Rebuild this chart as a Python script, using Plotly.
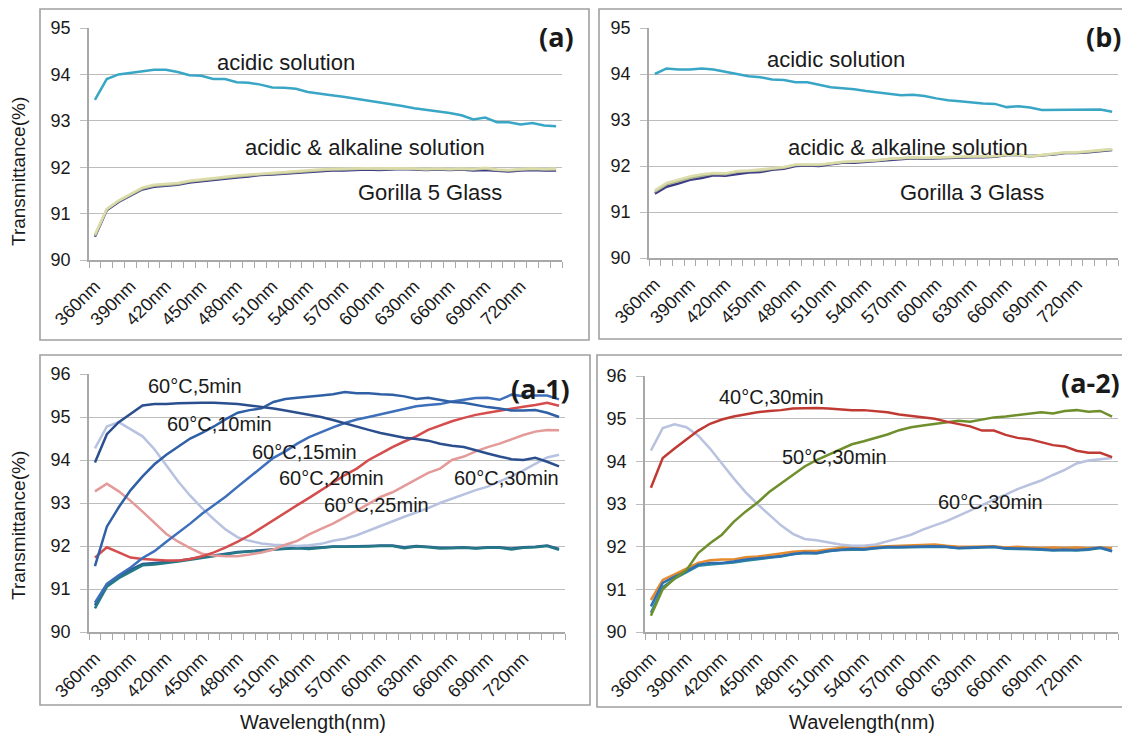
import plotly.graph_objects as go

# the page body has an 8px default margin, so the figure is 8px smaller than the window
OFF = 8
W, H = 1130 - OFF, 737 - OFF

wavelength = list(range(360, 760, 10))
tick_vals = list(range(360, 730, 30))
tick_text = [f"{v}nm" for v in tick_vals]

# ---------- panel (a): Gorilla 5 ----------
a_acidic = [93.45, 93.9, 94.0, 94.03, 94.06, 94.1, 94.1, 94.05, 93.98, 93.97,
            93.9, 93.9, 93.83, 93.82, 93.78, 93.72, 93.71, 93.69, 93.62, 93.58,
            93.55, 93.52, 93.48, 93.44, 93.4, 93.37, 93.32, 93.27, 93.24, 93.2,
            93.17, 93.12, 93.03, 93.07, 92.97, 92.97, 92.92, 92.95, 92.9, 92.88]
a_glass_dark = [90.5, 91.07, 91.25, 91.38, 91.52, 91.58, 91.6, 91.62, 91.67, 91.7,
                91.73, 91.75, 91.78, 91.8, 91.83, 91.84, 91.86, 91.88, 91.9, 91.92,
                91.93, 91.93, 91.94, 91.95, 91.94, 91.95, 91.96, 91.95, 91.94, 91.95,
                91.94, 91.95, 91.93, 91.94, 91.92, 91.91, 91.93, 91.94, 91.93, 91.93]
a_glass_light1 = [90.55, 91.1, 91.28, 91.42, 91.56, 91.62, 91.64, 91.66, 91.71, 91.74,
                  91.77, 91.79, 91.82, 91.84, 91.86, 91.88, 91.9, 91.92, 91.94, 91.95,
                  91.96, 91.96, 91.97, 91.98, 91.97, 91.98, 91.98, 91.97, 91.96, 91.97,
                  91.96, 91.97, 91.96, 91.99, 91.95, 91.94, 91.96, 91.97, 91.96, 91.97]
a_glass_light2 = [90.52, 91.09, 91.27, 91.4, 91.54, 91.6, 91.62, 91.64, 91.69, 91.72,
                  91.75, 91.77, 91.8, 91.82, 91.85, 91.86, 91.88, 91.9, 91.92, 91.94,
                  91.95, 91.95, 91.96, 91.97, 91.96, 91.97, 91.97, 91.96, 91.95, 91.96,
                  91.95, 91.96, 91.95, 91.97, 91.94, 91.93, 91.95, 91.96, 91.95, 91.95]

# ---------- panel (b): Gorilla 3 ----------
b_acidic = [94.0, 94.12, 94.1, 94.1, 94.12, 94.1, 94.05, 94.0, 93.95, 93.93,
            93.88, 93.87, 93.82, 93.82, 93.77, 93.71, 93.69, 93.67, 93.63, 93.6,
            93.58, 93.54, 93.55, 93.52, 93.47, 93.43, 93.41, 93.38, 93.36, 93.35,
            93.28, 93.3, 93.27, 93.22, 93.22, 93.22, 93.23, 93.23, 93.23, 93.18]
b_glass_dark = [91.4, 91.55, 91.62, 91.7, 91.74, 91.8, 91.79, 91.83, 91.86, 91.87,
                91.92, 91.94, 92.0, 92.01, 92.0, 92.04, 92.07, 92.07, 92.09, 92.11,
                92.14, 92.16, 92.17, 92.16, 92.17, 92.18, 92.19, 92.19, 92.19, 92.2,
                92.24, 92.24, 92.22, 92.23, 92.25, 92.28, 92.28, 92.3, 92.33, 92.35]
b_glass_light1 = [91.47, 91.63, 91.7, 91.77, 91.82, 91.85, 91.84, 91.89, 91.9, 91.92,
                  91.95, 91.98, 92.03, 92.03, 92.03, 92.06, 92.09, 92.1, 92.11, 92.13,
                  92.16, 92.18, 92.19, 92.18, 92.19, 92.2, 92.21, 92.21, 92.21, 92.22,
                  92.25, 92.25, 92.21, 92.24, 92.27, 92.3, 92.3, 92.32, 92.35, 92.37]
b_glass_light2 = [91.44, 91.6, 91.67, 91.74, 91.79, 91.83, 91.82, 91.87, 91.89, 91.9,
                  91.94, 91.96, 92.02, 92.02, 92.02, 92.05, 92.08, 92.09, 92.1, 92.12,
                  92.15, 92.17, 92.18, 92.17, 92.18, 92.19, 92.2, 92.2, 92.2, 92.21,
                  92.24, 92.24, 92.2, 92.23, 92.26, 92.29, 92.29, 92.31, 92.34, 92.36]

# ---------- panel (a-1): 60 C, various times ----------
a1_5min = [93.94, 94.6, 94.88, 95.08, 95.27, 95.3, 95.3, 95.32, 95.33, 95.33,
           95.33, 95.32, 95.3, 95.27, 95.24, 95.2, 95.15, 95.1, 95.04, 95.0,
           94.93, 94.85, 94.77, 94.7, 94.63, 94.57, 94.52, 94.49, 94.45, 94.38,
           94.33, 94.3, 94.22, 94.15, 94.08, 94.02, 94.0, 94.05, 93.96, 93.85]
a1_10min = [91.53, 92.45, 92.9, 93.3, 93.62, 93.9, 94.12, 94.3, 94.5, 94.63,
            94.78, 94.95, 95.1, 95.16, 95.2, 95.35, 95.42, 95.45, 95.47, 95.5,
            95.53, 95.58, 95.55, 95.55, 95.53, 95.52, 95.48, 95.42, 95.45, 95.4,
            95.35, 95.33, 95.28, 95.23, 95.2, 95.15, 95.15, 95.16, 95.1, 95.0]
a1_15min = [90.68, 91.12, 91.32, 91.5, 91.72, 91.88, 92.1, 92.3, 92.52, 92.75,
            92.95, 93.15, 93.38, 93.6, 93.82, 94.05, 94.2, 94.38, 94.53, 94.65,
            94.76, 94.86, 94.94, 95.0, 95.06, 95.12, 95.18, 95.25, 95.28, 95.3,
            95.36, 95.4, 95.44, 95.45, 95.4, 95.52, 95.48, 95.5, 95.5, 95.41]
a1_20min = [91.73, 91.97, 91.85, 91.73, 91.7, 91.68, 91.66, 91.66, 91.7, 91.76,
            91.85, 91.97, 92.1, 92.25, 92.43, 92.6, 92.78, 92.95, 93.12, 93.3,
            93.48, 93.65, 93.8, 94.0, 94.15, 94.3, 94.43, 94.55, 94.7, 94.8,
            94.9, 94.98, 95.05, 95.1, 95.15, 95.2, 95.24, 95.28, 95.33, 95.26]
a1_25min = [93.27, 93.45, 93.27, 93.05, 92.8, 92.55, 92.28, 92.1, 91.95, 91.82,
            91.78, 91.76, 91.76, 91.8, 91.85, 91.92, 92.03, 92.12, 92.27, 92.4,
            92.52, 92.67, 92.82, 92.98, 93.14, 93.25, 93.4, 93.55, 93.7, 93.8,
            94.0, 94.08, 94.2, 94.3, 94.38, 94.48, 94.58, 94.66, 94.7, 94.69]
a1_30min = [94.27, 94.78, 94.88, 94.72, 94.55, 94.25, 93.88, 93.5, 93.17, 92.88,
            92.62, 92.38, 92.2, 92.12, 92.06, 92.03, 92.02, 92.0, 92.02, 92.05,
            92.12, 92.17, 92.25, 92.36, 92.47, 92.57, 92.68, 92.78, 92.88, 93.0,
            93.1, 93.2, 93.3, 93.38, 93.5, 93.62, 93.76, 93.92, 94.06, 94.12]
a1_base_teal = [90.55, 91.05, 91.25, 91.4, 91.55, 91.57, 91.6, 91.64, 91.68, 91.72,
                91.76, 91.8, 91.85, 91.87, 91.88, 91.92, 91.94, 91.95, 91.93, 91.96,
                91.98, 91.98, 91.98, 91.99, 92.0, 92.0, 91.95, 91.99, 91.97, 91.94,
                91.95, 91.96, 91.94, 91.96, 91.96, 91.92, 91.96, 91.97, 92.0, 91.91]
a1_base_navy = [90.62, 91.1, 91.3, 91.45, 91.58, 91.6, 91.63, 91.66, 91.7, 91.74,
                91.78, 91.82, 91.86, 91.88, 91.9, 91.93, 91.95, 91.96, 91.95, 91.97,
                91.99, 91.99, 91.99, 92.0, 92.01, 92.01, 91.97, 92.0, 91.98, 91.96,
                91.96, 91.97, 91.95, 91.97, 91.97, 91.94, 91.97, 91.98, 92.01, 91.93]

# ---------- panel (a-2): 30 min, various temperatures ----------
a2_40c = [93.38, 94.08, 94.3, 94.52, 94.72, 94.88, 94.98, 95.05, 95.1, 95.15,
          95.18, 95.2, 95.24, 95.25, 95.25, 95.24, 95.22, 95.2, 95.2, 95.17,
          95.15, 95.1, 95.07, 95.03, 95.0, 94.93, 94.88, 94.82, 94.72, 94.72,
          94.62, 94.55, 94.52, 94.45, 94.38, 94.35, 94.25, 94.2, 94.2, 94.1]
a2_50c = [90.38, 91.0, 91.25, 91.45, 91.85, 92.08, 92.28, 92.58, 92.82, 93.03,
          93.28, 93.48, 93.68, 93.88, 94.03, 94.15, 94.28, 94.4, 94.47, 94.55,
          94.63, 94.73, 94.8, 94.84, 94.88, 94.92, 94.95, 94.93, 94.98, 95.03,
          95.05, 95.08, 95.12, 95.15, 95.12, 95.18, 95.2, 95.16, 95.18, 95.05]
a2_60c = [94.25, 94.78, 94.87, 94.8, 94.6, 94.3, 93.95, 93.6, 93.28, 93.0,
          92.75, 92.5, 92.3, 92.18, 92.15, 92.1, 92.05, 92.02, 92.02, 92.05,
          92.12, 92.2, 92.28, 92.4, 92.5, 92.6, 92.72, 92.85, 92.98, 93.1,
          93.22, 93.35, 93.45, 93.55, 93.68, 93.8, 93.95, 94.02, 94.05, 94.08]
a2_base_orange = [90.75, 91.22, 91.35, 91.48, 91.62, 91.68, 91.7, 91.7, 91.75, 91.77,
                  91.8, 91.84, 91.88, 91.9, 91.9, 91.94, 91.97, 91.99, 91.99, 92.0,
                  92.01, 92.02, 92.03, 92.04, 92.05, 92.02, 92.0, 92.0, 92.0, 92.01,
                  91.98, 92.0, 91.98, 91.97, 91.98, 91.97, 91.98, 91.96, 91.98, 91.96]
a2_base_blue = [90.6, 91.15, 91.3, 91.42, 91.58, 91.62, 91.62, 91.65, 91.7, 91.72,
                91.75, 91.78, 91.83, 91.86, 91.85, 91.9, 91.93, 91.95, 91.94, 91.97,
                91.99, 91.99, 92.0, 92.0, 92.01, 92.0, 91.97, 91.98, 91.99, 92.0,
                91.96, 91.96, 91.95, 91.94, 91.92, 91.93, 91.92, 91.94, 91.98, 91.9]
a2_base_teal = [90.45, 91.05, 91.25, 91.4, 91.55, 91.58, 91.6, 91.63, 91.67, 91.71,
                91.74, 91.77, 91.82, 91.85, 91.84, 91.89, 91.92, 91.93, 91.93, 91.96,
                91.98, 91.98, 91.99, 91.99, 92.0, 91.99, 91.96, 91.97, 91.98, 91.99,
                91.95, 91.95, 91.94, 91.93, 91.91, 91.92, 91.91, 91.93, 91.97, 91.89]

FONT = "Liberation Sans, Arial, sans-serif"
TXT = "#1a1a1a"
GRID = "#bdbdbd"
AXL = "#a8a8a8"
BOX = "#a0a0a0"


def px(x):
    return (x - OFF) / W


def py(y):
    return 1 - (y - OFF) / H


fig = go.Figure()

panels = {
    # name: (x_left, x_right, y_top, y_bottom, ymax)  in window pixels
    "1": (89, 562, 28, 260, 95),
    "2": (649, 1118, 28, 258, 95),
    "3": (89, 565, 374, 632, 96),
    "4": (645, 1118, 376, 632, 96),
}


def add(series, color, ax, width=2.5):
    fig.add_trace(go.Scatter(
        x=wavelength, y=series, mode="lines",
        line=dict(color=color, width=width),
        xaxis="x" + ("" if ax == "1" else ax),
        yaxis="y" + ("" if ax == "1" else ax),
        showlegend=False, hoverinfo="skip"))


# (a)
add(a_acidic, "#3aa6c6", "1")
add(a_glass_dark, "#3d3a88", "1")
add(a_glass_light2, "#a9b48c", "1")
add(a_glass_light1, "#dcdcab", "1")
# (b)
add(b_acidic, "#3aa6c6", "2")
add(b_glass_dark, "#3d3a88", "2")
add(b_glass_light2, "#a9b48c", "2")
add(b_glass_light1, "#dcdcab", "2")
# (a-1)
add(a1_base_navy, "#2f5b95", "3")
add(a1_base_teal, "#237a86", "3")
add(a1_30min, "#b7c2e0", "3")
add(a1_25min, "#e39a98", "3")
add(a1_20min, "#d54d4d", "3")
add(a1_15min, "#3d6fba", "3")
add(a1_10min, "#2f5fa4", "3")
add(a1_5min, "#2b4f8e", "3")
# (a-2)
add(a2_base_orange, "#e68a2e", "4")
add(a2_base_teal, "#2b8c9c", "4")
add(a2_base_blue, "#2f6fb0", "4")
add(a2_60c, "#b9c2de", "4")
add(a2_50c, "#6f8f2c", "4")
add(a2_40c, "#c03a34", "4")

layout = dict(
    width=W, height=H,
    margin=dict(l=0, r=0, t=0, b=0, autoexpand=False),
    paper_bgcolor="white", plot_bgcolor="white",
    font=dict(family=FONT, color=TXT, size=16),
    showlegend=False,
    template="none",
)

for k, (xl, xr, yt, yb, ymax) in panels.items():
    xa = "xaxis" + ("" if k == "1" else k)
    ya = "yaxis" + ("" if k == "1" else k)
    layout[xa] = dict(
        domain=[px(xl), px(xr)], anchor="y" + ("" if k == "1" else k),
        type="linear", range=[355, 755], automargin=False,
        tickmode="array", tickvals=tick_vals, ticktext=tick_text,
        tickangle=-45, ticks="", showgrid=False, zeroline=False,
        showline=True, linecolor=AXL, linewidth=1.5,
        ticklabelstandoff=7,
        tickfont=dict(size=18, color=TXT, family=FONT),
        minor=dict(ticks="outside", tick0=355, dtick=10, ticklen=6,
                   tickcolor=AXL, tickwidth=1.2, showgrid=False),
    )
    layout[ya] = dict(
        domain=[py(yb), py(yt)], anchor="x" + ("" if k == "1" else k),
        range=[90, ymax], dtick=1, tick0=90, automargin=False,
        showgrid=True, gridcolor=GRID, gridwidth=1.2, zeroline=False,
        showline=True, linecolor=AXL, linewidth=1.5,
        ticks="outside", ticklen=7, tickcolor=GRID,
        ticklabelstandoff=6,
        tickfont=dict(size=18, color=TXT, family=FONT),
    )

fig.update_layout(**layout)

# panel frames
shapes = []
for (x0, y0, x1, y1) in [(40, 7, 589, 340), (599, 7, 1128, 339),
                         (40, 355, 590, 705), (597, 355, 1128, 707)]:
    shapes.append(dict(type="rect", xref="paper", yref="paper",
                       x0=px(x0), x1=px(x1), y0=py(y1), y1=py(max(y0, OFF + 1)),
                       line=dict(color=BOX, width=1.6), fillcolor="rgba(0,0,0,0)",
                       layer="below"))
fig.update_layout(shapes=shapes)

ann = []


def text(t, x, y, size=22, bold=False, angle=0, family=FONT):
    ann.append(dict(text=("<b>%s</b>" % t) if bold else t,
                    x=px(x), y=py(y), xref="paper", yref="paper",
                    xanchor="center", yanchor="middle", showarrow=False,
                    textangle=angle,
                    font=dict(size=size, color=TXT, family=family)))


# (a)
text("acidic solution", 286, 62)
text("acidic &amp; alkaline solution", 365, 148)
text("Gorilla 5 Glass", 430, 192)
text("(a)", 556, 37, size=27, bold=True, family="Open Sans, sans-serif")
# (b)
text("acidic solution", 836, 60)
text("acidic &amp; alkaline solution", 908, 148)
text("Gorilla 3 Glass", 972, 192)
text("(b)", 1103, 37, size=27, bold=True, family="Open Sans, sans-serif")
# (a-1)
text("60°C,5min", 195, 386, size=20)
text("60°C,10min", 220, 424, size=20)
text("60°C,15min", 304, 452, size=20)
text("60°C,20min", 331, 478, size=20)
text("60°C,25min", 376, 505, size=20)
text("60°C,30min", 506, 478, size=20)
text("(a-1)", 540, 388, size=27, bold=True, family="Open Sans, sans-serif")
# (a-2)
text("40°C,30min", 771, 397, size=20)
text("50°C,30min", 834, 457, size=20)
text("60°C,30min", 990, 502, size=20)
text("(a-2)", 1090, 382, size=27, bold=True, family="Open Sans, sans-serif")
# axis titles
text("Transmittance(%)", 18, 172, size=19, angle=-90)
text("Transmittance(%)", 18, 526, size=19, angle=-90)
text("Wavelength(nm)", 313, 722, size=20)
text("Wavelength(nm)", 862, 722, size=20)

fig.update_layout(annotations=ann)

fig.write_html("out.html")
